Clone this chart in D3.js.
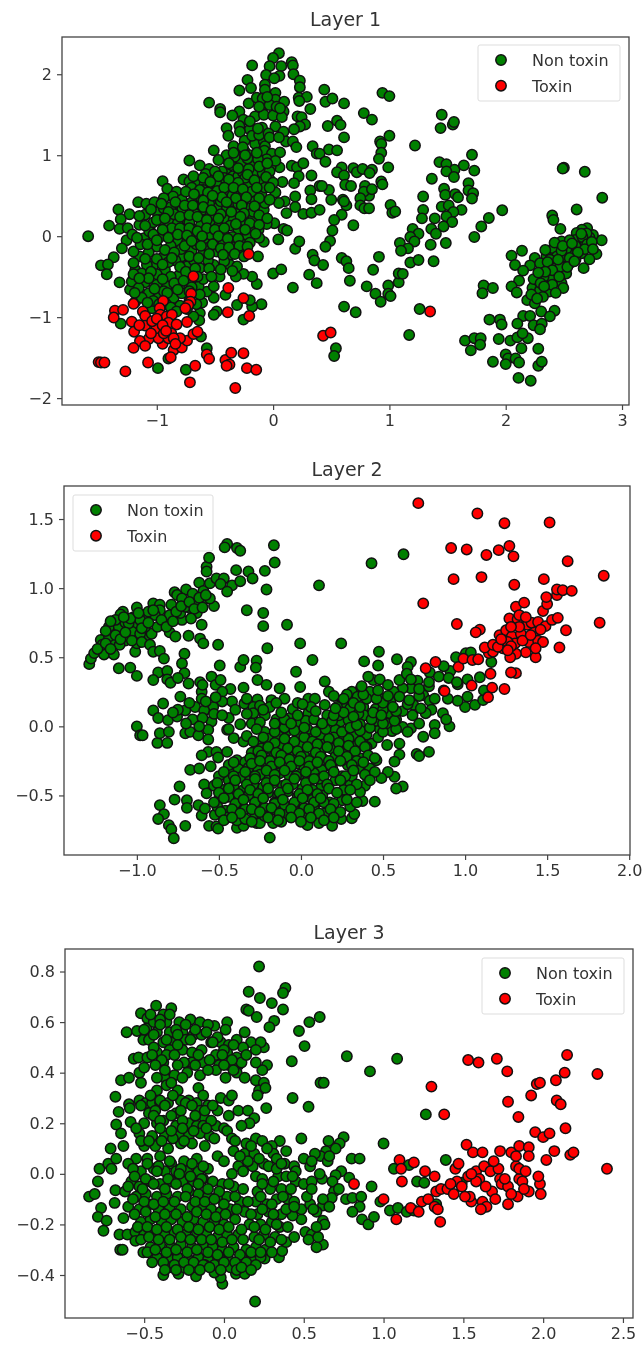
<!DOCTYPE html>
<html>
<head>
<meta charset="utf-8">
<script src="https://cdn.jsdelivr.net/npm/d3@7"></script>
<style>
  html, body { margin: 0; padding: 0; background: #fff; }
  svg { display: block; filter: blur(0.6px); }
  text { font-family: "DejaVu Sans", sans-serif; fill: #333; }
</style>
</head>
<body>
<div id="chart"></div>
<script>
// values, [x, y]
const layer1NonToxin = [
[-1.59,0],[-1.41,.13],[-1.33,.33],[-1.235,.27],[-1.31,.21],[-1.32,.09],[-1.25,.1],[-1.16,.42],[-1.09,.4],[-1.26,-.05],[-1.3,-.15],[-1.37,-.26],[-1.48,-.36],[-1.42,-.35],[-1.43,-.47],[-1.32,-.57],[-1.23,-.66],[-1.31,-1.08],[-.99,-1.63],[-.75,-1.65],[-.57,-1.385],[-.62,-1.24],[-.9,-1.51],
[.05,2.26],[0,2.2],[.16,2.15],[.17,2.11],[.07,2.1],[-.03,2.1],[-.18,2.11],[-.06,1.99],[.055,1.98],[.175,2],[.01,1.95],[.23,1.92],[.23,1.84],[-.22,1.93],[-.19,1.83],[-.29,1.8],[-.07,1.87],[-.07,1.81],[.02,1.77],[.22,1.71],[.29,1.72],[.225,1.67],[.32,1.57],[-.55,1.65],[-.455,1.57],[-.455,1.53],[-.21,1.64],[-.14,1.71],[-.09,1.7],[.02,1.685],[.095,1.66],[.09,1.54],[-.1,1.55],[-.29,1.54],[-.35,1.49],[-.255,1.44],[-.155,1.48],[-.08,1.5],[0,1.49],[.075,1.47],[.21,1.48],[.245,1.47],[.275,1.38],[.23,1.355],[.18,1.32],[.02,1.355],[-.095,1.34],[-.2,1.32],[-.29,1.36],[-.4,1.335],[-.385,1.24],[-.285,1.29],[.09,1.29],[.11,1.17],[.17,1.17],[.2,1.1],[.34,1.11],[.375,1.02],[-.245,1.18],[-.34,1.11],[-.155,1.14],[-.08,1.17],[-.07,1.11],[-.51,1.06],[-.4,1],[-.245,1.05],[-.075,1.055],[-.01,1.02],[.06,1.035],[-.72,.935],[-.63,.875],[-.55,.83],[-.47,.94],[-.4,.78],[-.27,.91],[-.17,.9],[-.055,.95],[.055,.85],[.16,.87],[.205,.85],[.26,.9],[.22,.74],[.33,.75],[.08,.67],[.18,.655],[.4,.62],[.32,.565],[.33,.457],[.19,.49],[.1,.43],[.05,.41],[.02,.54],[.115,.285],[.19,.36],[.26,.275],[.33,.29],[.4,.325],
[.01,.16],[.09,.09],[.12,.07],[.045,-.04],[-.055,.15],[-.08,-.07],[-.125,.08],[.19,-.155],[.225,-.065],[0,-.46],[.07,-.41],[.17,-.635],[.31,-.475],[.375,-.58],[.34,-.23],[.355,-.3],[-.13,-.25],[-.14,-.59],[-.18,-.5],[-.255,-.465],[-.32,-.5],[-.1,-.84],[-.18,-.87],[-.2,-.79],[-.31,-.85],[-.255,-1.03],[-.485,-.93],[-.51,-.97],[-.51,-.76],[-.57,-.685],[-.51,-.62],[-.46,-.5],[-.41,-.725],[-.61,-.82],[-.63,-.95],[-.635,-1.04],[-.685,-.99],[-.64,-.62],[-.8,-.61],[-.855,-.655],[-.915,-.62],[-1.04,-.89],
// main cloud
[-.95,.68],[-.91,.585],[-.83,.55],[-.86,.49],[-.94,.47],[-.77,.7],[-.72,.675],[-.64,.675],[-.59,.635],[-.685,.74],[-.52,.58],[-.655,.47],[-.585,.5],[-.785,.45],[-.5,.45],[-.455,.675],[-.385,.635],[-.345,.74],[-.3,.74],[-.26,.79],[-.155,.78],[-.09,.78],[-.215,.635],[-.1,.665],[-.185,.55],[-.285,.52],[-.37,.53],[-.455,.55],[-.1,.52],[-.21,.345],[-.305,.3],[-.4,.345],[-.485,.345],[-.6,.3],[-.675,.305],[-.755,.21],[-.83,.285],[-.89,.16],[-1,.3],[-1.1,.265],[-.94,.345],[-1.06,.08],[-1.11,-.025],[-1,-.13],[-1.065,.06],[-.87,.04],[-.815,-.065],[-.77,.08],[-.685,.08],[-.6,.08],[-.5,-.025],[-.425,.04],[-.355,-.085],[-.27,-.045],[-.17,.22],[-.08,.325],[-.07,.41],[-.155,.43],[-.4,.195],[-.51,.18],[-.6,.2],[-.7,-.18],[-.6,-.21],[-.485,-.19],[-.37,-.23],[-.27,-.17],[-.785,-.25],[-.84,-.3],[-.94,-.25],[-1.03,-.365],[-1.185,-.415],[-1.085,-.355],[-1.145,-.25],[-1.2,-.19],[-.93,-.415],[-.815,-.49],[-.74,-.375],[-.63,-.395],[-.51,-.355],[-.37,-.355],[-.31,-.375],[-1.215,-.56],[-1.1,-.57],[-1.155,-.64],[-1,-.6],[-1.07,-.705],[-1.185,-.81],[-.855,-.765],[-.785,-.705],[-.98,-.745],
[-.88,.36],[-.78,.34],[-.7,.42],[-.62,.38],[-.54,.26],[-.45,.43],[-.36,.43],[-.26,.43],[-.31,.62],[-.24,.72],[-.44,.8],[-.5,.72],[-.58,.77],[-.36,.88],[-.33,.98],[-.2,1],[-.13,.95],[-.21,.83],[-.02,.86],[-.03,.7],[-.07,.6],[-.34,.2],[-.26,.18],[-.3,.09],[-.19,.1],[-.22,.01],[-.12,-.02],[-.35,-.01],[-.43,-.1],[-.56,-.06],[-.65,-.03],[-.74,-.07],[-.88,-.12],[-.98,-.02],[-1.03,.17],[-1.15,.14],[-1.21,.02],[-1.14,-.1],[-1.07,-.2],[-.97,.2],[-.82,.16],[-.72,.17],[-.62,.14],[-.47,.12],[-.54,.02],[-.67,.01],[-.79,-.16],[-.66,-.1],[-.55,-.14],[-.42,-.31],[-.56,-.3],[-.68,-.3],[-.8,-.38],[-.9,-.32],[-1.13,-.46],[-1,-.47],[-.88,-.5],[-.71,-.52],[-.6,-.53],[-1.03,-.8],[-.92,-.84],[-.8,-.86],[-.7,-.63],[-1.13,-.76],[-.94,-.68],[-.72,-.8],[-1.02,.42],[-.85,.27],[-.55,.4],[-.3,.4],[-.17,.3],[-.35,.5],[-.48,.63],[-.6,.57],[-.42,.72],
[-.38,.9],[-.3,.84],[-.22,.96],[-.12,.86],[-.03,.8],[.02,.93],[-.5,.8],[-.47,.74],[-.38,.7],[-.3,.66],[-.22,.76],[-.16,.69],[-.06,.73],[0,.66],[-.6,.72],[-.54,.67],[-.48,.56],[-.42,.6],[-.34,.6],[-.26,.58],[-.14,.6],[-.03,.6],[-.7,.6],[-.63,.57],[-.56,.54],[-.44,.48],[-.32,.47],[-.23,.48],[-.12,.47],[-.03,.45],[-.75,.55],[-.68,.52],[-.6,.44],[-.52,.5],[-.4,.42],[-.27,.38],[-.16,.37],[-.84,.42],[-.76,.38],[-.69,.38],[-.6,.36],[-.53,.32],[-.45,.27],[-.36,.3],[-.25,.28],[-.12,.26],[-.05,.22],[-.96,.4],[-.9,.3],[-.8,.24],[-.72,.26],[-.65,.24],[-.57,.2],[-.47,.22],[-.37,.13],[-.28,.24],[-.2,.16],[-.12,.14],[-1.05,.33],[-1,.2],[-.93,.22],[-.87,.1],[-.8,.1],[-.72,.1],[-.65,.06],[-.57,.1],[-.5,.08],[-.42,.1],[-.32,.15],[-.24,.08],[-.15,.03],[-1.15,.25],[-1.1,.13],[-1.03,.02],[-.95,.08],[-.9,-.02],[-.82,.02],[-.74,.01],[-.61,0],[-.47,0],[-.39,-.03],[-.3,-.03],[-.2,-.08],[-1.17,-.02],[-1.08,-.1],[-1,-.05],[-.93,-.17],[-.85,-.2],[-.76,-.12],[-.7,-.06],[-.62,-.12],[-.52,-.1],[-.45,-.15],[-.38,-.14],[-.29,-.12],[-.22,-.13],[-1.1,-.28],[-1,-.28],[-.87,-.27],[-.72,-.25],[-.64,-.27],[-.55,-.22],[-.43,-.23],[-.33,-.22],[-.25,-.25],[-1.2,-.33],[-1.05,-.44],[-.95,-.35],[-.75,-.44],[-.67,-.4],[-.55,-.4],[-.45,-.41],[-.35,-.43],[-1.2,-.47],[-1.07,-.52],[-.95,-.53],[-.85,-.58],[-.77,-.55],[-.65,-.5],[-.53,-.5],[-1.15,-.52],[-1.02,-.65],[-.91,-.7],[-.82,-.66],[-.72,-.68],[-.63,-.72],[-1.19,-.7],[-1.08,-.82],[-.98,-.84],[-.88,-.88],[-.74,-.9],[-.66,-.84],[-.83,-.93],[-.34,1.03],[-.26,1.1],[-.18,1.24],[-.12,1.25],[-.04,1.27],[-.2,1.42],[-.12,1.6],[-.03,1.62],[.03,1.6],[-.05,1.72],[.06,1.58],[-.24,1],[-.14,1.03],[-.05,.9],[-.13,1.33],[-.03,1.22],[.05,1.22],
// middle and right branches
[.44,1.81],[.45,1.66],[.51,1.7],[.61,1.64],[.78,1.52],[.85,1.44],[.94,1.77],[1,1.73],[1.45,1.5],[1.44,1.335],[1.545,1.38],[1.555,1.41],[.47,1.36],[.55,1.425],[.58,1.375],[.61,1.22],[.48,1.07],[.55,1.06],[.4,1.02],[.45,.92],[.92,1.17],[.93,1.14],[1,1.24],[1.22,1.12],[.93,1.03],[.91,.955],[.99,.85],[.59,.85],[.55,.79],[.61,.75],[.69,.84],[.72,.79],[.77,.83],[.85,.82],[.62,.635],[.67,.62],[.79,.62],[.93,.675],[.94,.64],[.83,.78],[.48,.57],[.42,.62],[.5,.45],[.6,.45],[.63,.38],[.61,.43],[.825,.5],[.78,.55],[.75,.47],[.75,.38],[.785,.345],[.825,.345],[.85,.58],[1.01,.385],[1.025,.29],[1.05,.305],[.59,.265],[.525,.2],[.69,.135],[.51,.07],[.49,-.06],[.45,-.13],[.59,-.27],[.63,-.31],[.65,-.395],[.66,-.55],[.43,-.355],[.61,-.87],[.71,-.94],[.54,-1.385],[.525,-1.48],[.91,-.255],[.86,-.415],[.805,-.62],[.88,-.71],[.925,-.81],[.99,-.61],[.99,-.71],[1.01,-.74],[1.08,-.57],[1.08,-.46],[1.115,-.465],[1.18,-.325],[1.25,-.295],[1.38,-.31],[1.26,-.9],[1.17,-1.22],
[1.365,.71],[1.43,.915],[1.49,.89],[1.56,.82],[1.49,.8],[1.555,.73],[1.64,.875],[1.71,1.005],[1.73,.81],[1.68,.655],[1.68,.565],[1.72,.53],[1.71,.465],[1.47,.585],[1.48,.51],[1.29,.49],[1.565,.52],[1.59,.48],[1.45,.365],[1.51,.38],[1.62,.325],[1.55,.3],[1.49,.245],[1.54,.175],[1.465,.12],[1.39,.22],[1.29,.325],[1.28,.22],[1.36,.09],[1.4,.03],[1.485,-.085],[1.355,-.105],[1.2,.09],[1.25,.03],[1.18,-.01],[1.215,-.065],[1.09,-.085],[1.16,-.15],[1.1,-.18],[1.97,.32],[1.855,.225],[1.79,.12],[1.73,-.01],
[2.5,.845],[2.49,.835],[2.68,.795],[2.83,.475],[2.61,.33],[2.4,.255],[2.41,.2],[2.47,.09],[2.14,-.18],[2.05,-.24],[2.08,-.355],[2.25,-.27],[2.21,-.36],[2.15,-.425],[2.115,-.55],[2.05,-.62],[2.095,-.695],[2.23,-.64],[2.185,-.79],[2.25,-.83],[2.305,-.93],[2.42,-.92],[2.38,-.99],[2.15,-.985],[2.21,-.985],[2.24,-1.1],[2.31,-1.08],[2.295,-1.15],[2.1,-1.08],[1.95,-1.03],[1.86,-1.03],[1.965,-1.09],[1.81,-.61],[1.89,-.64],[1.8,-.705],[1.65,-1.29],[1.73,-1.26],[1.785,-1.26],[1.78,-1.34],[1.7,-1.41],[1.94,-1.27],[2.04,-1.29],[2.1,-1.25],[2.19,-1.26],[2.145,-1.2],[2.135,-1.385],[2.28,-1.39],[2,-1.46],[2.02,-1.51],[2.085,-1.51],[2.115,-1.56],[1.89,-1.55],[2,-1.58],[2.28,-1.6],[2.31,-1.55],[2.11,-1.75],[2.215,-1.785],
[2.825,-.05],[2.78,-.22],[2.75,.015],[2.7,.1],[2.655,.08],[2.61,.04],[2.72,-.015],[2.63,-.04],[2.725,-.13],[2.655,-.21],[2.72,-.285],[2.67,-.395],[2.58,-.15],[2.55,-.335],[2.52,-.46],[2.48,-.065],[2.41,-.15],[2.35,-.245],[2.34,-.17],[2.44,-.25],[2.51,-.25],[2.33,-.375],[2.44,-.44],[2.395,-.53],[2.48,-.58],[2.495,-.64],[2.325,-.505],[2.265,-.54],[2.35,-.62],[2.375,-.685],[2.295,-.665],[2.24,-.53],[2.41,-.355],[2.6,-.29],[2.565,-.21],[2.525,-.15],[2.38,-.29],[2.295,-.335],[2.47,-.375],[2.625,-.11],[2.68,-.065],[2.6,-.045],[2.695,.035],
[2.6,-.12],[2.55,-.05],[2.66,-.01],[2.7,-.1],[2.68,-.16],[2.62,-.2],[2.55,-.27],[2.48,-.18],[2.42,-.08],[2.36,-.32],[2.4,-.42],[2.46,-.5],[2.53,-.38],[2.34,-.44],[2.3,-.58],[2.4,-.6],[2.32,-.75],[2.43,-.7],[2.45,-.29],[2.49,-.12],[2.57,-.09],[2.74,-.07],[2.75,-.16],[2.65,.03],[2.59,-.31],[2.28,-.45],[2.33,-.62],[2.22,-.72],[2.27,-.77]
];
const layer1Toxin = [
[-.685,-.495],[-.21,-.22],[-.385,-.64],[-.255,-.765],[-.39,-.94],[-.205,-.985],[-.705,-.71],[-.945,-.8],[-1.2,-.835],[-.71,-.81],[-.73,-.85],[-.755,-.89],[-1.36,-.92],[-1.29,-.91],[-1.37,-1.005],[-1.215,-1.055],[-1.195,-1.18],[-1.12,-.93],[-1.1,-.985],[-.975,-.89],[-.97,-.97],[-.915,-.99],[-.87,-.97],[-.9,-1.07],[-.83,-1.09],[-.74,-1.06],[-1.1,-1.105],[-1.005,-1.14],[-1.07,-1.27],[-1.145,-1.295],[-1.1,-1.355],[-1.2,-1.38],[-.95,-1.33],[-.985,-1.26],[-.875,-1.2],[-.855,-1.405],[-.785,-1.375],[-.74,-1.29],[-.8,-1.26],[-.685,-1.21],[-.65,-1.18],[-.88,-1.495],[-.9,-1.26],[-.855,-1.26],[-.94,-1.2],[-1.5,-1.555],[-1.48,-1.56],[-1.45,-1.56],[-1.27,-1.67],[-1.075,-1.56],[-.67,-1.6],[-.57,-1.46],[-.55,-1.515],[-.715,-1.805],[-.325,-1.875],[-.41,-1.53],[-.36,-1.44],[-.375,-1.585],[-.4,-1.6],[-.255,-1.445],[-.225,-1.63],[-.145,-1.65],[.43,-1.23],[.495,-1.19],[1.35,-.93],[-1.04,-1.05],[-1,-1.02],[-1.15,-1.1],[-1.05,-1.2],[-.95,-1.1],[-.92,-1.17],[-.84,-1.33]
];
const layer2NonToxin = [
[-1.29,.45],[-1.28,.49],[-1.26,.53],[-1.22,.625],[-1.2,.52],[-1.17,.72],[-1.14,.52],[-1.11,.42],[-1.04,.425],[-1,.365],[-1.085,.83],[-1.1,.81],[-1,.86],[-.9,.89],[-.86,.88],[-.86,.84],[-.79,.88],[-.77,.97],[-.755,.95],[-.7,.99],[-.62,1.04],[-.66,.96],[-.595,.98],[-.59,.915],[-.53,.87],[-.675,.855],[-.635,.82],[-.725,.77],[-.605,.735],[-.685,.655],[-.615,.635],[-.595,.6],[-.8,.68],[-.765,.65],[-.83,.76],[-.95,.63],[-1,.73],[-1.01,.54],[-1,.6],[-1.07,.62],[-1.11,.72],[-1.07,.75],[-1.03,.685],[-.98,.67],[-.91,.67],[-.875,.72],[-.95,.72],[-.94,.79],[-.89,.805],[-.8,.805],[-.735,.82],[-.705,.865],[-1.14,.6],[-1.21,.59],[-1.105,.59],[-1.17,.65],[-1.02,.79],[-1.05,.745],[-.98,.77],[-.635,.89],[-.555,.925],[-.725,.925],
[-1.24,.56],[-1.19,.6],[-1.16,.56],[-1.13,.66],[-1.1,.63],[-1.07,.68],[-1.03,.62],[-1.04,.78],[-1.13,.77],[-1.08,.79],[-.97,.71],[-.93,.75],[-.93,.83],[-.85,.77],[-.82,.72],[-.78,.76],[-.76,.83],[-.73,.87],[-.68,.9],[-.65,.85],[-.62,.93],[-.6,.86],[-.58,.95],[-.67,.78],[-.97,.61],[-.92,.59],[-1.19,.69],[-1.16,.76],[-.99,.82],[-.9,.84],
[-.575,1.155],[-.56,1.22],[-.575,1.12],[-.555,1.035],[-.515,1.07],[-.47,1.07],[-.49,1.03],[-.42,1.02],[-.45,.975],[-.37,1.05],[-.395,1.13],[-.32,1.12],[-.295,1.07],[-.22,1.125],[-.16,1.185],[-.165,1.31],[-.45,1.32],[-.465,1.295],[-.39,1.29],[-.37,1.27],[-.21,.99],[-.23,.82],[-.23,.725],[-.33,.84],[-.085,.735],[-.205,.565],[-.505,.59],[-.005,.6],[.07,.48],[-.03,.395],[-.005,.285],[.11,1.02],[.43,1.18],[.625,1.245],[.245,.6],[.475,.54],[.385,.47],[.47,.44],[.585,.485],[.67,.465],[.65,.43],
[-.9,.54],[-.86,.545],[-.835,.49],[-.71,.525],[-.725,.455],[-.71,.385],[-.87,.39],[-.815,.4],[-.9,.335],[-.815,.34],[-.795,.315],[-.75,.35],[-.685,.31],[-.615,.32],[-.545,.36],[-.52,.3],[-.49,.335],[-.495,.44],[-.37,.43],[-.35,.48],[-.27,.475],[-.275,.425],[-.265,.335],[-.35,.28],[-.43,.27],[-.48,.25],[-.605,.25],[-.21,.3],[-.13,.275],[-.1,.2],[-.18,.19],[-.265,.195],[-.345,.165],[-.29,.14],[-.42,.18],[-.48,.18],[-.535,.14],[-.605,.2],[-.645,.14],[-.705,.115],[-.735,.215],[-.84,.165],[-.9,.115],[-.87,.06],[-.81,.045],[-.755,.07],[-.59,.115],[-.545,.035],[-.44,.06],[-.37,.015],[-.29,.095],[-.22,.08],[-.19,.14],[-.065,.06],[-.05,.125],[.045,.2],[.085,.2],[.045,.095],[-1,0],[-.98,-.065],[-.965,-.065],[-.875,-.12],[-.815,-.12],[-.86,-.05],[-.805,-.04],[-.705,-.05],[-.675,-.04],[-.625,-.065],[-.565,-.025],[-.565,-.095],[-.45,-.025],[-.41,-.085],[-.35,-.11],[-.22,-.04],
[-.75,.12],[-.68,.17],[-.78,.1],[-.66,.05],[-.6,.06],[-.7,.02],[-.62,0],[-.53,.09],[-.48,.08],[-.4,.12],[-.33,.09],[-.25,.15],[-.33,.2],[-.23,.12],[-.15,.17],[-.6,.3],[-.58,.18],[-.52,.21],[-.44,-.02],[-.3,.02],[-.25,.03],[-.15,.05],[-.12,.02],
[-.45,-.185],[-.565,-.185],[-.605,-.21],[-.515,-.185],[-.505,-.225],[-.39,-.245],[-.675,-.315],[-.62,-.305],[-.55,-.29],[-.43,-.34],[-.59,-.42],[-.575,-.485],[-.74,-.435],[-.77,-.53],[-.695,-.535],[-.695,-.59],[-.86,-.57],[-.835,-.635],[-.87,-.67],[-.805,-.715],[-.79,-.745],[-.775,-.81],[-.705,-.72],[-.625,-.57],[-.605,-.645],[-.585,-.595],[-.525,-.64],[-.56,-.72],[-.515,-.725],[-.505,-.74],[-.39,-.735],[-.35,-.72],[-.39,-.68],[-.27,-.7],[-.25,-.7],[-.17,-.7],[-.19,-.805],[.04,-.715],
[.905,0],[.815,.01],[.815,-.05],[.865,.095],[.885,.05],[.745,-.075],[.705,-.2],[.72,-.215],[.78,-.185],[.62,-.435],[.58,-.45],[.57,-.365],[.6,-.205],[.57,-.255],[.53,-.33],[.49,-.375],[.45,-.545],[.375,-.54],[.31,-.665],[.325,-.635],[.245,-.67],[.19,-.72],[.145,-.63],[1,.14],[1.06,.155],[.955,.185],[1.015,.215],[.895,.2],[1.11,.19],[1.115,.26],[.955,.305],[1.015,.34],[1.09,.355],[.91,.4],[.87,.435],[.785,.39],[.84,.36],[1.16,.465],[.945,.5],[1.005,.53],[1.035,.535],
[.71,.33],[.67,.275],[.745,.225],[.785,.185],[.815,.2],[.62,.275],[.565,.25],[.6,.335],[.645,.38],[.545,.18],[.62,.11],[.685,.155],[.6,.215],[.795,.12],[.76,.095],[.67,-.015],[.62,-.005],[.555,-.035],[.6,-.125],[.525,-.135],[.48,-.02],[.44,.335],[.48,.34],[.41,.36],[.365,.275],[.31,.25],[.345,.215],[.42,.25],[.485,.2],[.255,.19],[.275,.14],[.38,.14],[.455,.125],[.54,.095],[.145,.325],[.17,.25],[.145,.155],[.16,.08],[.24,.035],[.29,.045],[.385,.08],[.36,.015],[.125,.01],[.21,-.025],[.255,-.04],[.32,-.065],[.39,-.065],[.43,-.125],[.24,-.1],[.185,-.16],[.315,-.21],[.4,-.15],[.46,-.245],[.42,-.305],[.35,-.305],[.285,-.28],[.21,-.22],[.155,-.28],[.25,-.245],[.39,-.43],[.36,-.475],[.3,-.425],[.26,-.46],[.21,-.39],[.165,-.45],[.175,-.55],[.25,-.535],[.3,-.58],[.125,-.435],[.125,-.315],[.125,-.12],
// bottom cloud
[-.33,-.07],[-.27,-.13],[-.2,-.09],[-.14,-.06],[-.08,-.03],[-.02,-.06],[.04,-.02],[.08,-.08],[-.02,.03],[.03,.04],[-.3,-.19],[-.24,-.16],[-.18,-.17],[-.12,-.13],[-.06,-.12],[0,-.14],[.06,-.13],[.12,-.18],[-.34,-.26],[-.28,-.23],[-.22,-.24],[-.16,-.21],[-.1,-.23],[-.04,-.19],[.02,-.21],[.08,-.22],[.06,-.28],[-.44,-.28],[-.38,-.31],[-.32,-.3],[-.26,-.32],[-.2,-.28],[-.14,-.29],[-.08,-.26],[-.02,-.27],[.02,-.31],[.08,-.34],[-.5,-.36],[-.44,-.39],[-.37,-.37],[-.31,-.39],[-.25,-.35],[-.19,-.37],[-.13,-.34],[-.07,-.36],[-.01,-.35],[.05,-.4],[.11,-.38],[-.53,-.43],[-.47,-.46],[-.41,-.43],[-.35,-.46],[-.29,-.42],[-.23,-.44],[-.17,-.41],[-.11,-.43],[-.05,-.42],[.01,-.45],[.07,-.46],[.13,-.5],[-.5,-.53],[-.44,-.51],[-.38,-.53],[-.32,-.5],[-.26,-.52],[-.2,-.48],[-.14,-.5],[-.08,-.47],[-.02,-.51],[.04,-.49],[.1,-.55],[-.51,-.58],[-.46,-.61],[-.4,-.57],[-.34,-.6],[-.28,-.56],[-.22,-.59],[-.16,-.55],[-.1,-.57],[-.04,-.56],[.02,-.59],[.08,-.6],[-.45,-.66],[-.34,-.67],[-.28,-.63],[-.22,-.65],[-.15,-.61],[-.09,-.64],[-.03,-.62],[.03,-.65],[.09,-.66],[-.12,-.69],[.11,-.7],[.14,-.55],[.07,-.53],
[.12,-.06],[.14,-.24],[.19,-.3],[.25,-.36],[.31,-.36],[.36,-.23],[.2,-.08],[.27,-.16],[.34,-.14],[.4,-.06],[.23,.08],[.3,.13],[.22,.14],[.35,.09],[.4,.2],[.28,.23],[.46,.04],[.5,.12],[.58,.05],[.52,.02],[.47,-.08],[.06,.14],[-.02,.17],
[-.29,-.11],[-.23,-.08],[-.16,-.12],[-.1,-.09],[-.04,-.11],[.02,-.08],[.07,-.11],[.1,-.13],[.17,-.09],[.23,-.12],[.29,-.09],[.36,-.11],[-.26,-.18],[-.2,-.15],[-.15,-.19],[-.08,-.16],[-.02,-.18],[.04,-.15],[.09,-.19],[.16,-.15],[.23,-.18],[.29,-.14],[.33,-.18],[.39,-.15],[-.31,-.23],[-.24,-.21],[-.19,-.25],[-.12,-.21],[-.07,-.24],[0,-.22],[.05,-.25],[.12,-.22],[.17,-.25],[.28,-.22],[.34,-.25],[.41,-.21],[.45,-.23],[-.41,-.26],[-.3,-.27],[-.25,-.25],[-.18,-.29],[-.13,-.26],[-.06,-.29],[-.01,-.25],[.05,-.29],[.1,-.26],[.18,-.28],[.24,-.25],[.31,-.28],[.38,-.26],[-.47,-.33],[-.41,-.36],[-.34,-.33],[-.28,-.36],[-.21,-.32],[-.16,-.35],[-.1,-.32],[-.03,-.36],[.03,-.33],[.14,-.36],[.2,-.33],[.27,-.36],[.32,-.32],[.39,-.35],[.45,-.33],[-.51,-.41],[-.4,-.39],[-.33,-.42],[-.28,-.38],[-.21,-.41],[-.16,-.39],[-.09,-.42],[-.04,-.38],[.03,-.41],[.08,-.38],[.16,-.42],[.24,-.39],[.34,-.42],[.42,-.39],[-.5,-.48],[-.44,-.45],[-.38,-.49],[-.31,-.46],[-.26,-.49],[-.2,-.45],[-.13,-.48],[-.08,-.45],[-.01,-.49],[.04,-.46],[.1,-.49],[.17,-.45],[.22,-.48],[.3,-.46],[-.53,-.55],[-.47,-.52],[-.4,-.56],[-.35,-.53],[-.28,-.55],[-.23,-.52],[-.16,-.56],[-.11,-.53],[-.04,-.55],[.01,-.52],[.08,-.55],[.12,-.52],[.2,-.56],[.28,-.53],[.34,-.55],[-.49,-.62],[-.42,-.6],[-.37,-.63],[-.3,-.6],[-.25,-.62],[-.18,-.59],[-.13,-.63],[-.06,-.6],[-.01,-.63],[.05,-.6],[.11,-.63],[.18,-.6],[.24,-.62],[-.47,-.68],[-.42,-.66],[-.3,-.69],[-.2,-.66],[-.14,-.68],[-.06,-.66],[0,-.69],[.06,-.66],[.14,-.68],[.2,-.66],
[-.27,-.02],[-.16,-.04],[-.1,-.01],[-.04,-.03],[.02,-.01],[.09,-.04],[.15,-.02],[.25,-.04],[.3,-.01],[.36,-.03],[.42,-.01],[.5,-.04],[.58,-.02],[.65,-.04],[-.16,.02],[-.1,.05],[-.06,.02],[.08,.05],[.13,.02],[.19,.04],[.34,.01],[.43,.05],[.5,.02],[.57,.04],[.72,.02],[-.12,.1],[-.02,.08],[.09,.11],[.2,.08],[.26,.1],[.32,.07],[.44,.1],[.49,.08],[.58,.11],[.68,.08],[.01,.16],[.21,.13],[.32,.17],[.36,.14],[.5,.17],[.56,.14],[.65,.16],[.73,.13],[.2,.22],[.26,.2],[.38,.23],[.46,.2],[.53,.22],[.66,.19],[.72,.22],[.37,.29],[.47,.26],[.53,.3],[.72,.27],[.78,.29],[.87,.26],[.67,.34],[.78,.32],[.9,.35],[.95,.32]
];
const layer2Toxin = [
[.715,1.615],[1.075,1.54],[1.24,1.47],[1.515,1.475],[.915,1.29],[1.01,1.28],[1.13,1.24],[1.205,1.275],[1.27,1.305],[1.295,1.23],[1.625,1.195],[1.845,1.09],[.93,1.065],[1.1,1.08],[1.3,1.025],[1.48,1.065],[.745,.89],[.95,.74],[1.09,.7],[1.065,.68],[1.82,.75],[1.615,.695],[1.575,.57],[1.43,.5],[1.37,.535],[1.31,.525],[1.275,.5],[1.31,.385],[1.28,.39],[1.24,.27],[1.165,.28],[1.14,.21],[1.155,.38],[1.04,.295],[.875,.255],[.96,.43],[.76,.42],[.82,.465],[.99,.49],[1.045,.48],[1.08,.485],[1.145,.53],[1.17,.54],[1.12,.57],[1.17,.59],[1.21,.66],[1.23,.565],[1.2,.575],[1.25,.695],[1.27,.78],[1.32,.775],[1.31,.865],[1.36,.895],[1.285,.65],[1.305,.6],[1.34,.67],[1.39,.61],[1.42,.685],[1.445,.62],[1.475,.61],[1.43,.565],[1.38,.735],[1.405,.75],[1.445,.755],[1.49,.725],[1.53,.77],[1.565,.785],[1.475,.835],[1.5,.885],[1.495,.935],[1.56,.95],[1.56,.99],[1.595,.985],[1.65,.98],[1.33,.805],[1.37,.79],[1.26,.61],
[1.22,.63],[1.28,.58],[1.35,.62],[1.33,.72],[1.4,.66],[1.46,.7],[1.28,.72],[1.26,.55]
];
const layer3NonToxin = [
[.22,.82],[.155,.72],[.225,.695],[.3,.675],[.385,.735],[.37,.715],[.37,.65],[.14,.65],[.155,.645],[.205,.62],[.315,.605],[.285,.58],[.535,.6],[.6,.62],[.47,.565],[.505,.505],[.425,.445],[.43,.3],[.53,.265],[.605,.36],[.265,.26],[.485,.14],[.195,-.505],[-.01,-.435],[-.02,-.41],[.77,.465],[.915,.405],[1.085,.455],[.625,.36],[1.265,.235],[1,.12],[.75,.145],[.725,.12],[.655,.13],[.64,.09],[.605,.07],[1.39,.055],[.8,.06],[.85,.06],[.735,.01],[.7,-.005],[.785,-.015],[.615,-.02],[.925,-.05],[.69,-.07],[.675,-.095],[.765,-.1],[.805,-.095],[.86,-.09],[.85,-.13],[.62,-.125],[.805,-.15],[.865,-.18],[.905,-.2],[.94,-.17],[.98,-.11],[1.04,-.145],[1.09,-.135],[1.145,-.15],[1.19,-.145],[1.065,.02],[1.16,.035],[1.21,-.03],[1.255,-.035],[1.33,-.12],[1.49,-.035],[.62,-.185],[.63,-.2],[.62,-.28],
[-.845,-.09],[-.81,-.08],[-.79,-.03],[-.78,.02],[-.725,.04],[-.705,.02],[-.675,.06],[-.71,.1],[-.63,.11],[-.675,.195],[-.645,.16],[-.66,.245],[-.68,.305],[-.585,.205],[-.595,.275],[-.645,.37],[-.595,.38],[-.52,.36],[-.53,.4],[-.565,.455],[-.535,.46],[-.61,.56],[-.545,.565],[-.52,.635],[-.425,.665],[-.33,.655],[-.38,.63],[-.48,.615],[-.485,.575],[-.505,.53],[-.68,-.065],[-.685,-.115],[-.77,-.135],[-.79,-.17],[-.735,-.185],[-.755,-.225],[-.63,-.175],[-.655,-.24],[-.605,-.24],[-.65,-.3],[-.635,-.3],[-.555,-.23],[-.555,-.265],[-.505,-.31],[-.38,-.4],[-.285,-.395],[-.175,-.405],[-.06,-.39],[.075,-.395],[.13,-.395],[.345,-.33],[.365,-.305],[.255,-.335],[.39,-.27],[.44,-.25],[.485,-.18],[.485,-.14],[.43,-.165],
// upper band
[-.44,.6],[-.36,.6],[-.28,.6],[-.21,.61],[-.15,.6],[-.06,.585],[.02,.6],[.01,.57],[-.42,.56],[-.34,.56],[-.26,.56],[-.19,.55],[-.14,.55],[-.47,.53],[-.38,.52],[-.31,.52],[-.24,.53],[-.08,.52],[-.02,.52],[.03,.51],[.13,.56],[.17,.52],[.08,.53],[.25,.5],[.23,.52],[.12,.5],[-.42,.48],[-.34,.49],[-.26,.49],[-.2,.48],[-.05,.47],[.02,.48],[.08,.46],[.09,.43],[-.48,.46],[-.38,.44],[-.2,.44],[-.13,.44],[-.03,.43],[.03,.43],[.11,.44],[-.37,.38],[-.31,.39],[-.5,.42],[-.15,.39],[-.05,.41],[.01,.38],[.08,.4],[.13,.38],[.2,.37],[.27,.43],[.24,.41],[.25,.36],[.22,.33],[.26,.34],[.21,.31],[-.36,.35],[-.29,.33],[-.42,.33],[-.16,.34],
[-.53,.29],[-.49,.28],[-.45,.28],[-.4,.28],[-.35,.28],[-.27,.29],[-.22,.29],[-.17,.28],[-.1,.27],[-.02,.3],[.03,.29],[.05,.31],[-.59,.26],[-.47,.24],[-.3,.24],[-.15,.25],[-.12,.22],[-.04,.25],[.09,.25],[.15,.25],[.19,.22],[.16,.2],[.11,.19],[-.5,.2],[-.38,.21],[-.3,.19],[-.22,.2],[-.17,.19],[-.13,.19],[-.05,.19],[0,.18],[.02,.17],[-.42,.2],[-.53,.16],[-.45,.15],[-.37,.15],[-.28,.15],[-.22,.15],[-.15,.16],[-.09,.15],[-.06,.14],
[-.46,.63],[-.4,.61],[-.34,.63],[-.5,.57],[-.4,.59],[-.3,.57],[-.24,.59],[-.18,.57],[-.1,.59],[-.44,.55],[-.36,.53],[-.29,.55],[-.21,.53],[-.11,.56],[-.04,.54],[-.44,.5],[-.36,.47],[-.29,.51],[-.14,.49],[-.07,.52],[0,.49],[.06,.51],[.2,.49],[-.45,.47],[-.39,.45],[-.31,.47],[-.25,.44],[-.16,.47],[-.09,.45],[-.01,.47],[.05,.45],[.14,.47],[.2,.44],[-.43,.43],[-.37,.41],[-.29,.43],[-.23,.4],[-.18,.43],[-.1,.41],[0,.43],[.06,.41],[-.42,.38],[-.33,.36],[-.26,.38],[-.46,.31],[-.4,.29],[-.32,.31],[-.24,.28],[-.13,.31],[-.52,.27],[-.43,.25],[-.37,.27],[-.27,.25],[-.2,.27],[-.12,.25],[-.07,.27],[-.44,.23],[-.4,.21],[-.33,.23],[-.26,.21],[-.18,.23],[-.08,.21],[.03,.23],
// lower cloud
[.05,.14],[.07,.13],[.14,.12],[.2,.14],[.24,.13],[.35,.13],[.3,.11],[.39,.09],[.06,.09],[.13,.08],[.19,.08],[.31,.08],[.33,.06],[.38,.04],[.44,.03],[.5,.06],[.57,.08],[-.5,.11],[-.43,.11],[-.35,.1],[-.27,.12],[-.2,.12],[-.12,.11],[-.04,.07],[0,.05],[.09,.03],[.18,.03],[.25,.04],[-.55,.06],[-.48,.06],[-.4,.07],[-.33,.04],[-.25,.05],[-.17,.06],[-.1,.02],[-.6,.04],[-.52,.01],[-.44,.02],[-.37,.01],[-.3,.01],[-.23,.01],[-.16,.01],[.05,0],[.12,.01],[.2,-.01],[.24,-.02],[.34,-.01],[.39,-.01],[.45,.01],[.54,.03],[-.58,-.03],[-.53,-.05],[-.46,-.03],[-.4,-.04],[-.33,-.03],[-.26,-.03],[-.19,-.03],[-.13,-.02],[-.07,-.03],[-.01,-.04],[.06,-.05],[.21,-.07],[.29,-.06],[.36,-.06],[.45,-.03],[.5,-.04],[.55,-.03],[-.62,-.07],[-.55,-.09],[-.49,-.08],[-.42,-.09],[-.36,-.08],[-.29,-.09],[-.22,-.07],[-.16,-.08],[-.1,-.09],[-.04,-.09],[.02,-.09],[.1,-.11],[.2,-.11],[.27,-.12],[.33,-.1],[.4,-.1],[.54,-.12],[.58,-.15],[-.6,-.13],[-.53,-.14],[-.47,-.12],[-.41,-.14],[-.34,-.13],[-.27,-.14],[-.2,-.13],[-.14,-.13],[-.08,-.14],[-.02,-.15],[.04,-.14],[.13,-.15],[.21,-.16],[.28,-.15],[.36,-.16],[-.52,-.19],[-.46,-.18],[-.39,-.19],[-.33,-.18],[-.26,-.19],[-.19,-.18],[-.13,-.19],[-.06,-.19],[0,-.2],[.07,-.18],[.16,-.2],[.23,-.2],[.3,-.19],[.35,-.21],[-.5,-.24],[-.44,-.23],[-.37,-.24],[-.31,-.23],[-.24,-.24],[-.17,-.23],[-.11,-.24],[-.04,-.25],[.02,-.24],[.09,-.24],[.19,-.25],[.25,-.24],[.32,-.25],[-.46,-.29],[-.4,-.28],[-.33,-.29],[-.27,-.28],[-.2,-.29],[-.13,-.28],[-.07,-.29],[-.01,-.3],[.06,-.29],[.14,-.3],[.2,-.29],[.26,-.3],[.51,-.23],[.55,-.24],[.58,-.29],[-.42,-.33],[-.35,-.33],[-.29,-.33],[-.22,-.34],[-.16,-.33],[-.1,-.34],[-.03,-.33],[.03,-.34],[.11,-.33],[.17,-.34],[.23,-.33],[-.34,-.37],[-.25,-.37],[-.19,-.37],[-.12,-.36],[.04,-.37],[.14,-.36],
[-.57,.02],[-.48,.04],[-.41,.03],[-.34,.05],[-.27,.02],[-.2,.04],[-.13,.03],[-.56,-.01],[-.49,-.02],[-.42,.01],[-.35,-.02],[-.28,0],[-.21,-.01],[-.14,-.02],[-.6,-.05],[-.51,-.06],[-.44,-.04],[-.37,-.06],[-.3,-.04],[-.23,-.06],[-.16,-.04],[-.1,-.06],[-.03,-.07],[.03,-.04],[.12,-.06],[.24,-.04],[.31,-.03],[.42,-.06],[-.57,-.1],[-.5,-.11],[-.44,-.12],[-.38,-.11],[-.31,-.11],[-.24,-.09],[-.18,-.11],[-.12,-.11],[-.06,-.1],[0,-.12],[.07,-.09],[.15,-.11],[.23,-.09],[.3,-.12],[.37,-.09],[.44,-.11],[.52,-.09],[-.56,-.16],[-.49,-.15],[-.43,-.17],[-.37,-.16],[-.3,-.16],[-.23,-.17],[-.17,-.15],[-.11,-.16],[-.05,-.17],[.01,-.16],[.08,-.14],[.17,-.16],[.24,-.14],[.31,-.16],[.39,-.14],[.44,-.13],[.56,-.14],[-.54,-.21],[-.48,-.21],[-.42,-.22],[-.36,-.21],[-.29,-.22],[-.22,-.21],[-.16,-.22],[-.09,-.21],[-.03,-.22],[.03,-.21],[.11,-.22],[.19,-.21],[.26,-.22],[.33,-.2],[.4,-.21],[-.52,-.26],[-.47,-.25],[-.41,-.26],[-.34,-.26],[-.27,-.25],[-.21,-.26],[-.14,-.26],[-.08,-.26],[-.01,-.27],[.05,-.26],[.12,-.26],[.22,-.26],[.29,-.27],[.36,-.26],[.53,-.26],[.59,-.25],[-.48,-.31],[-.43,-.3],[-.36,-.31],[-.3,-.3],[-.23,-.31],[-.17,-.3],[-.1,-.31],[-.04,-.32],[.03,-.31],[.1,-.32],[.17,-.31],[.23,-.31],[.3,-.31],[-.45,-.35],[-.38,-.35],[-.31,-.36],[-.25,-.35],[-.19,-.35],[-.13,-.36],[-.06,-.36],[0,-.35],[.07,-.35],[.14,-.35],[.2,-.36],[-.37,-.38],[-.3,-.38],[-.22,-.38],[-.15,-.38],[-.09,-.37],[-.02,-.38],[.08,-.38],[.11,-.37],[.17,-.38],[-.52,.13],[-.47,.13],[-.39,.13],[-.32,.14],[-.25,.13],[-.55,.18],[-.4,.18],[-.33,.17],[-.26,.18],[-.19,.17],[-.11,.18],[.15,.05],[.22,.06],[.28,.03],[.33,.02],[.43,-.01],[.1,.07],[.17,.11],[.27,.1],[.36,.04],[.55,-.06],[.6,0],[.65,.05],[.68,-.03],[.62,-.1],[.72,-.06],[.66,-.13],[.58,-.21],[.7,.1],[.55,.05],[.66,.07]
];
const layer3Toxin = [
[1.53,.45],[1.595,.44],[1.71,.455],[1.775,.405],[2.15,.47],[2.135,.4],[2.34,.395],[2.08,.37],[1.96,.355],[1.98,.36],[1.3,.345],[1.38,.235],[1.78,.285],[1.925,.31],[2.085,.29],[2.11,.275],[1.845,.225],[2.14,.18],[1.95,.165],[2,.145],[2.04,.16],[1.52,.115],[1.56,.085],[1.62,.085],[1.73,.09],[1.8,.085],[1.85,.11],[1.91,.105],[1.91,.07],[2.02,.055],[2.07,.09],[2.17,.075],[2.19,.085],[2.4,.02],[1.1,.055],[1.11,.02],[1.115,-.03],[1.19,.045],[.815,-.04],[1,-.1],[1.08,-.18],[1.17,-.135],[1.24,-.11],[1.22,-.15],[1.28,-.1],[1.26,.01],[1.32,-.01],[1.33,-.07],[1.32,-.13],[1.34,-.14],[1.355,-.19],[1.36,-.06],[1.4,-.06],[1.45,.02],[1.47,.04],[1.44,-.08],[1.46,-.03],[1.49,-.05],[1.53,-.01],[1.55,-.11],[1.54,-.09],[1.58,.01],[1.6,-.02],[1.63,.03],[1.67,.01],[1.62,-.11],[1.645,-.13],[1.61,-.14],[1.68,-.07],[1.72,.02],[1.73,-.02],[1.74,-.04],[1.78,-.05],[1.85,-.02],[1.83,.03],[1.85,.02],[1.87,-.03],[1.89,.01],[1.91,-.07],[1.78,-.12],[1.84,-.09],[1.98,-.04],[1.97,-.01],[1.985,-.08],[1.51,-.09],[1.58,-.03],
[1.55,0],[1.64,-.05],[1.7,-.1],[1.76,-.02],[1.8,-.08],[1.42,-.04],[1.88,-.06],[1.69,.05],[1.83,.07]
];

const xTicks1 = [-1, 0, 1, 2, 3];
const yTicks1 = [-2, -1, 0, 1, 2];
const xTicks2 = [-1, -.5, 0, .5, 1, 1.5, 2];
const yTicks2 = [-.5, 0, .5, 1, 1.5];
const xTicks3 = [-.5, 0, .5, 1, 1.5, 2, 2.5];
const yTicks3 = [-.4, -.2, 0, .2, .4, .6, .8];
const legendLabels = ["Non toxin", "Toxin"];
const colors = ["#008000", "#ff0000"];

const panels = [
    {title: "Layer 1", green: layer1NonToxin, red: layer1Toxin, xTicks: xTicks1, yTicks: yTicks1, fmt: d3.format("d"),
     xDomain: [-1.815, 3.06], yDomain: [-2.085, 2.46], box: [62, 37, 629, 405], legend: [478, 45, 142, 56], titleY: 26},
    {title: "Layer 2", green: layer2NonToxin, red: layer2Toxin, xTicks: xTicks2, yTicks: yTicks2, fmt: d3.format(".1f"),
     xDomain: [-1.444, 2.005], yDomain: [-.931, 1.739], box: [64, 486, 630, 855], legend: [73, 495, 140, 56], titleY: 476},
    {title: "Layer 3", green: layer3NonToxin, red: layer3Toxin, xTicks: xTicks3, yTicks: yTicks3, fmt: d3.format(".1f"),
     xDomain: [-.996, 2.563], yDomain: [-.57, .889], box: [65, 949, 633, 1318], legend: [482, 958, 142, 56], titleY: 939}
];

const svg = d3.select("#chart").append("svg")
    .attr("width", 643)
    .attr("height", 1347);

panels.forEach(p => {
    let [left, top, right, bottom] = p.box;
    let x = d3.scaleLinear().domain(p.xDomain).range([left, right]);
    let y = d3.scaleLinear().domain(p.yDomain).range([bottom, top]);
    let g = svg.append("g");

    [p.green, p.red].forEach((pts, i) => {
        g.selectAll(null)
            .data(pts)
            .enter()
            .append("circle")
            .attr("cx", d => x(d[0]))
            .attr("cy", d => y(d[1]))
            .attr("r", 5.2)
            .attr("fill", colors[i])
            .attr("stroke", "#111")
            .attr("stroke-width", 1.5);
    });

    g.append("rect")
        .attr("x", left).attr("y", top)
        .attr("width", right - left).attr("height", bottom - top)
        .attr("fill", "none").attr("stroke", "#444").attr("stroke-width", 1.3);

    let xAxis = d3.axisBottom(x).tickValues(p.xTicks).tickFormat(p.fmt).tickSize(5).tickPadding(5);
    let yAxis = d3.axisLeft(y).tickValues(p.yTicks).tickFormat(p.fmt).tickSize(5).tickPadding(5);

    let gx = g.append("g").attr("transform", "translate(0," + bottom + ")").call(xAxis);
    let gy = g.append("g").attr("transform", "translate(" + left + ",0)").call(yAxis);
    [gx, gy].forEach(a => {
        a.select(".domain").remove();
        a.selectAll("line").attr("stroke", "#444").attr("stroke-width", 1.2);
        a.selectAll("text").style("font-size", "16px").attr("fill", "#333");
    });

    g.append("text")
        .attr("x", (left + right) / 2)
        .attr("y", p.titleY)
        .attr("text-anchor", "middle")
        .style("font-size", "19px")
        .text(p.title);

    // legend
    let [lx, ly, lw, lh] = p.legend;
    let legend = g.append("g").attr("transform", "translate(" + lx + "," + ly + ")");
    legend.append("rect")
        .attr("width", lw).attr("height", lh).attr("rx", 2)
        .attr("fill", "#fff").attr("stroke", "#ddd").attr("stroke-width", 1);
    legendLabels.forEach((label, i) => {
        legend.append("circle")
            .attr("cx", 23).attr("cy", 15 + i * 25.7).attr("r", 5.2)
            .attr("fill", colors[i]).attr("stroke", "#111").attr("stroke-width", 1.5);
        legend.append("text")
            .attr("x", 54).attr("y", 21 + i * 25.7)
            .style("font-size", "16px")
            .text(label);
    });
});
</script>
</body>
</html>
